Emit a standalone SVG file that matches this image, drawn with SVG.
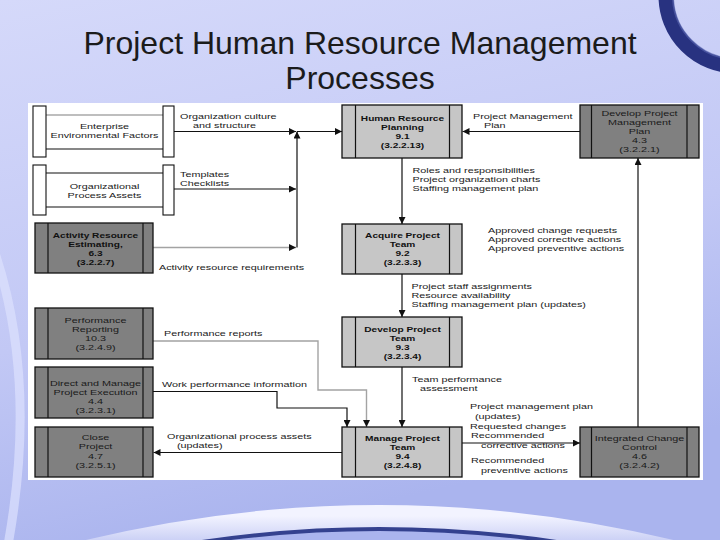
<svg xmlns="http://www.w3.org/2000/svg" width="720" height="540" viewBox="0 0 720 540">
<defs>
<linearGradient id="bg" x1="0" y1="0" x2="0.3" y2="1">
<stop offset="0" stop-color="#d5d9fa"/>
<stop offset="0.6" stop-color="#c2c8f5"/>
<stop offset="1" stop-color="#aab4ee"/>
</linearGradient>
<linearGradient id="tube" x1="0" y1="0" x2="0" y2="1">
<stop offset="0" stop-color="#f2f3ff"/>
<stop offset="0.5" stop-color="#c6ccf4"/>
<stop offset="1" stop-color="#8e98d8"/>
</linearGradient>
<marker id="ah" viewBox="0 0 8 8" refX="8" refY="4" markerWidth="7" markerHeight="7" markerUnits="userSpaceOnUse" orient="auto">
<path d="M0,0 L8,4 L0,8 Z" fill="#111"/>
</marker>
<style>
.lb{fill:#c6c6c6;stroke:#111;stroke-width:1.3}
.db{fill:#808080;stroke:#111;stroke-width:1.3}
.bar{fill:none;stroke:#111;stroke-width:1.2}
.ds{fill:#fff;stroke:#111;stroke-width:1.1}
.t{font-family:"Liberation Sans",Arial,sans-serif;font-size:8px;fill:#1a1a1a}
.tb{font-family:"Liberation Sans",Arial,sans-serif;font-size:7.8px;font-weight:bold;fill:#111}
.c{text-anchor:middle}
.ln{fill:none;stroke:#111;stroke-width:1.2}
.gl{fill:none;stroke:#a3a3a3;stroke-width:1.4}
.title{font-family:"Liberation Sans",Arial,sans-serif;font-size:32px;fill:#1b1b1b;text-anchor:middle}
</style>
</defs>

<!-- background -->
<rect x="0" y="0" width="720" height="540" fill="url(#bg)"/>
<path d="M -6 250 Q 38 380 8 545" fill="none" stroke="#dde1fd" stroke-width="9" opacity="0.7"/>
<circle cx="736" cy="-4" r="70" fill="none" stroke="#283280" stroke-width="15"/>
<circle cx="736" cy="-4" r="63" fill="none" stroke="#5a65b0" stroke-width="2" opacity="0.6"/>
<path d="M 10 572 Q 378 460 750 572" fill="none" stroke="#34418f" stroke-width="6" transform="translate(0,12)"/>
<path d="M 10 572 Q 378 460 750 572" fill="none" stroke="url(#tube)" stroke-width="22"/>

<text class="title" x="360" y="54">Project Human Resource Management</text>
<text class="title" x="360" y="89">Processes</text>

<!-- white panel -->
<rect x="28" y="103" width="675" height="377" fill="#ffffff"/>

<!-- connectors -->
<g id="connectors">
<line class="ln" x1="174" y1="131.5" x2="296" y2="131.5" marker-end="url(#ah)"/>
<line class="ln" x1="174" y1="189" x2="296" y2="189" marker-end="url(#ah)"/>
<line class="gl" x1="153" y1="247.5" x2="296" y2="247.5" marker-end="url(#ah)"/>
<line class="ln" x1="297" y1="247.5" x2="297" y2="131.5" marker-end="url(#ah)"/>
<line class="ln" x1="297" y1="131.5" x2="342" y2="131.5" stroke-width="2" marker-end="url(#ah)"/>
<line class="ln" x1="580" y1="131.5" x2="462.5" y2="131.5" marker-end="url(#ah)"/>
<line class="ln" x1="402" y1="158" x2="402" y2="224" marker-end="url(#ah)"/>
<line class="ln" x1="402" y1="274" x2="402" y2="317" marker-end="url(#ah)"/>
<line class="ln" x1="402" y1="367" x2="402" y2="427" marker-end="url(#ah)"/>
<polyline class="gl" points="153,341 318,341 318,390 366.5,390 366.5,427" marker-end="url(#ah)"/>
<polyline class="ln" points="153,391.5 277,391.5 277,408 347,408 347,427" marker-end="url(#ah)"/>
<line class="ln" x1="342" y1="452.5" x2="153.5" y2="452.5" marker-end="url(#ah)"/>
<line class="ln" x1="462" y1="443" x2="580" y2="443" marker-end="url(#ah)"/>
<line class="ln" x1="638" y1="427" x2="638" y2="158" marker-end="url(#ah)"/>
<g transform="scale(1.35 1)">
<text class="t" x="133.33" y="119.5">Organization culture</text>
<text class="t" x="142.96" y="128.5">and structure</text>
<text class="t" x="133.33" y="177">Templates</text>
<text class="t" x="133.33" y="186">Checklists</text>
<text class="t" x="117.78" y="270">Activity resource requirements</text>
<text class="t" x="350.37" y="119.5">Project Management</text>
<text class="t" x="358.52" y="128.5">Plan</text>
<text class="t" x="305.56" y="173">Roles and responsibilities</text>
<text class="t" x="305.56" y="182">Project organization charts</text>
<text class="t" x="305.56" y="191">Staffing management plan</text>
<text class="t" x="361.48" y="233">Approved change requests</text>
<text class="t" x="361.48" y="242">Approved corrective actions</text>
<text class="t" x="361.48" y="251">Approved preventive actions</text>
<text class="t" x="304.81" y="289">Project staff assignments</text>
<text class="t" x="304.81" y="298">Resource availability</text>
<text class="t" x="304.81" y="307">Staffing management plan (updates)</text>
<text class="t" x="305.19" y="382">Team performance</text>
<text class="t" x="311.11" y="391">assessment</text>
<text class="t" x="348.15" y="409.5">Project management plan</text>
<text class="t" x="351.85" y="419">(updates)</text>
<text class="t" x="348.15" y="429">Requested changes</text>
<text class="t" x="348.89" y="438.5">Recommended</text>
<text class="t" x="356.30" y="448">corrective actions</text>
<text class="t" x="348.89" y="463">Recommended</text>
<text class="t" x="356.30" y="473">preventive actions</text>
<text class="t" x="121.48" y="336">Performance reports</text>
<text class="t" x="120" y="387.5">Work performance information</text>
<text class="t" x="123.70" y="439.5">Organizational process assets</text>
<text class="t" x="131.11" y="448.5">(updates)</text>
</g>
</g>

<!-- data stores -->
<g id="enterprise">
<line x1="46" y1="115" x2="163" y2="115" stroke="#a8a8a8" stroke-width="1.4"/>
<line x1="46" y1="149" x2="163" y2="149" stroke="#111" stroke-width="1.2"/>
<rect class="ds" x="33" y="106" width="13" height="51"/>
<rect class="ds" x="163" y="106" width="11" height="51"/>
<g transform="scale(1.35 1)">
<text class="t c" x="77.41" y="129">Enterprise</text>
<text class="t c" x="77.41" y="138">Environmental Factors</text>
</g>
</g>
<g id="opa">
<line x1="46" y1="173" x2="163" y2="173" stroke="#111" stroke-width="1.2"/>
<line x1="46" y1="207" x2="163" y2="207" stroke="#111" stroke-width="1.2"/>
<rect class="ds" x="33" y="165" width="13" height="50"/>
<rect class="ds" x="163" y="165" width="11" height="50"/>
<g transform="scale(1.35 1)">
<text class="t c" x="77.41" y="189">Organizational</text>
<text class="t c" x="77.41" y="198">Process Assets</text>
</g>
</g>

<!-- left dark boxes -->
<g id="activity">
<rect class="db" x="35" y="223" width="118" height="50"/>
<line class="bar" x1="48" y1="223" x2="48" y2="273"/>
<line class="bar" x1="143" y1="223" x2="143" y2="273"/>
<g transform="scale(1.3 1)">
<text class="tb c" x="73.46" y="238">Activity Resource</text>
<text class="tb c" x="73.46" y="247">Estimating,</text>
<text class="tb c" x="73.46" y="256">6.3</text>
<text class="tb c" x="73.46" y="265">(3.2.2.7)</text>
</g>
</g>
<g id="perf">
<rect class="db" x="35" y="308" width="118" height="51"/>
<line class="bar" x1="48" y1="308" x2="48" y2="359"/>
<line class="bar" x1="143" y1="308" x2="143" y2="359"/>
<g transform="scale(1.35 1)">
<text class="t c" x="70.74" y="323.5">Performance</text>
<text class="t c" x="70.74" y="332.5">Reporting</text>
<text class="t c" x="70.74" y="341.5">10.3</text>
<text class="t c" x="70.74" y="350.5">(3.2.4.9)</text>
</g>
</g>
<g id="direct">
<rect class="db" x="35" y="367" width="118" height="51"/>
<line class="bar" x1="48" y1="367" x2="48" y2="418"/>
<line class="bar" x1="143" y1="367" x2="143" y2="418"/>
<g transform="scale(1.35 1)">
<text class="t c" x="70.74" y="386">Direct and Manage</text>
<text class="t c" x="70.74" y="395">Project Execution</text>
<text class="t c" x="70.74" y="404">4.4</text>
<text class="t c" x="70.74" y="413">(3.2.3.1)</text>
</g>
</g>
<g id="close">
<rect class="db" x="35" y="427" width="118" height="50"/>
<line class="bar" x1="48" y1="427" x2="48" y2="477"/>
<line class="bar" x1="143" y1="427" x2="143" y2="477"/>
<g transform="scale(1.35 1)">
<text class="t c" x="70.74" y="440">Close</text>
<text class="t c" x="70.74" y="449.5">Project</text>
<text class="t c" x="70.74" y="459">4.7</text>
<text class="t c" x="70.74" y="468.5">(3.2.5.1)</text>
</g>
</g>

<!-- centre light boxes -->
<g id="hrp">
<rect class="lb" x="342" y="105" width="120" height="53"/>
<line class="bar" x1="355.5" y1="105" x2="355.5" y2="158"/>
<line class="bar" x1="449.5" y1="105" x2="449.5" y2="158"/>
<g transform="scale(1.3 1)">
<text class="tb c" x="309.62" y="121.5">Human Resource</text>
<text class="tb c" x="309.62" y="130.5">Planning</text>
<text class="tb c" x="309.62" y="139.5">9.1</text>
<text class="tb c" x="309.62" y="148.5">(3.2.2.13)</text>
</g>
</g>
<g id="acquire">
<rect class="lb" x="342" y="224" width="120" height="50"/>
<line class="bar" x1="355.5" y1="224" x2="355.5" y2="274"/>
<line class="bar" x1="449.5" y1="224" x2="449.5" y2="274"/>
<g transform="scale(1.3 1)">
<text class="tb c" x="309.62" y="238">Acquire Project</text>
<text class="tb c" x="309.62" y="247">Team</text>
<text class="tb c" x="309.62" y="256">9.2</text>
<text class="tb c" x="309.62" y="265">(3.2.3.3)</text>
</g>
</g>
<g id="develop">
<rect class="lb" x="342" y="317" width="120" height="50"/>
<line class="bar" x1="355.5" y1="317" x2="355.5" y2="367"/>
<line class="bar" x1="449.5" y1="317" x2="449.5" y2="367"/>
<g transform="scale(1.3 1)">
<text class="tb c" x="309.62" y="332">Develop Project</text>
<text class="tb c" x="309.62" y="341">Team</text>
<text class="tb c" x="309.62" y="350">9.3</text>
<text class="tb c" x="309.62" y="359">(3.2.3.4)</text>
</g>
</g>
<g id="manage">
<rect class="lb" x="342" y="427" width="120" height="50"/>
<line class="bar" x1="355.5" y1="427" x2="355.5" y2="477"/>
<line class="bar" x1="449.5" y1="427" x2="449.5" y2="477"/>
<g transform="scale(1.3 1)">
<text class="tb c" x="309.62" y="441.5">Manage Project</text>
<text class="tb c" x="309.62" y="450.5">Team</text>
<text class="tb c" x="309.62" y="459.5">9.4</text>
<text class="tb c" x="309.62" y="468.5">(3.2.4.8)</text>
</g>
</g>

<!-- right dark boxes -->
<g id="dpmp">
<rect class="db" x="580" y="105" width="119" height="53"/>
<line class="bar" x1="591.5" y1="105" x2="591.5" y2="158"/>
<line class="bar" x1="687" y1="105" x2="687" y2="158"/>
<g transform="scale(1.35 1)">
<text class="t c" x="473.70" y="116.5">Develop Project</text>
<text class="t c" x="473.70" y="125.5">Management</text>
<text class="t c" x="473.70" y="134.5">Plan</text>
<text class="t c" x="473.70" y="143.5">4.3</text>
<text class="t c" x="473.70" y="152.5">(3.2.2.1)</text>
</g>
</g>
<g id="icc">
<rect class="db" x="580" y="427" width="119" height="50"/>
<line class="bar" x1="591.5" y1="427" x2="591.5" y2="477"/>
<line class="bar" x1="687" y1="427" x2="687" y2="477"/>
<g transform="scale(1.35 1)">
<text class="t c" x="473.70" y="441.5">Integrated Change</text>
<text class="t c" x="473.70" y="450.5">Control</text>
<text class="t c" x="473.70" y="459.5">4.6</text>
<text class="t c" x="473.70" y="468.5">(3.2.4.2)</text>
</g>
</g>
</svg>
